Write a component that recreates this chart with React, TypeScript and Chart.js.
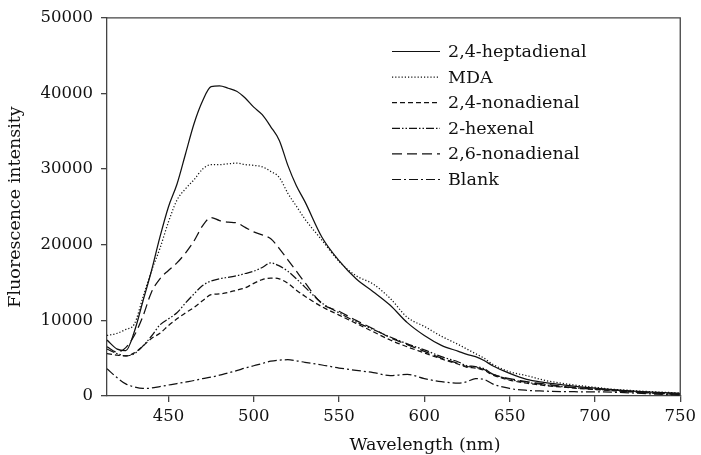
import React, { useEffect, useRef } from "react";
import { Chart, registerables } from "chart.js";

Chart.register(...registerables);

const wavelengths = [414, 420, 425, 430, 435, 440, 445, 450, 455, 460, 465, 470, 475, 480, 485, 490, 495, 500, 505, 510, 515, 520, 525, 530, 540, 550, 560, 570, 580, 590, 600, 610, 620, 625, 630, 635, 640, 650, 660, 670, 680, 690, 700, 710, 720, 730, 740, 750];

const heptadienal = [7400, 6200, 6000, 8500, 12500, 16500, 21000, 25000, 28000, 32000, 36000, 39000, 40900, 41000, 40700, 40300, 39400, 38200, 37200, 35600, 33800, 30500, 27800, 25700, 21000, 17900, 15500, 13800, 12000, 9700, 8000, 6700, 5900, 5500, 5200, 4700, 4000, 3000, 2200, 1800, 1500, 1250, 1050, 850, 680, 550, 450, 350];

const mda = [8000, 8300, 8800, 9500, 13000, 16500, 19500, 23000, 25900, 27400, 28600, 30000, 30600, 30600, 30700, 30800, 30600, 30500, 30300, 29700, 28900, 26800, 25100, 23400, 20600, 17800, 15900, 14800, 12900, 10400, 9200, 7900, 6800, 6200, 5600, 5000, 4200, 3200, 2700, 2100, 1700, 1400, 1150, 900, 750, 600, 500, 400];

const nonadienal24 = [5600, 5400, 5300, 5700, 6600, 7600, 8300, 9300, 10200, 11000, 11700, 12600, 13400, 13500, 13700, 14000, 14300, 14900, 15400, 15600, 15500, 14900, 14000, 13200, 11800, 10700, 9600, 8500, 7400, 6500, 5700, 4900, 4200, 3800, 3700, 3400, 2800, 2100, 1700, 1400, 1200, 1000, 850, 700, 560, 420, 320, 220];

const hexenal = [6200, 5600, 5300, 5600, 6600, 7900, 9400, 10200, 11000, 12300, 13500, 14600, 15200, 15500, 15700, 15900, 16200, 16500, 17000, 17600, 17200, 16500, 15500, 14400, 12300, 11000, 9800, 8800, 7800, 6900, 6100, 5200, 4500, 4000, 3900, 3600, 2900, 2200, 1800, 1500, 1250, 1050, 900, 750, 600, 450, 330, 230];

const nonadienal26 = [6500, 5800, 6400, 8000, 10500, 13700, 15500, 16600, 17600, 18900, 20500, 22500, 23600, 23200, 23000, 22900, 22300, 21700, 21300, 20800, 19500, 18000, 16500, 15000, 12200, 11200, 10000, 8900, 7700, 6800, 5900, 5000, 4300, 3900, 3800, 3500, 2900, 2300, 1900, 1600, 1300, 1100, 950, 800, 650, 500, 350, 250];

const blank = [3600, 2400, 1600, 1200, 1000, 1050, 1250, 1450, 1650, 1850, 2050, 2300, 2500, 2750, 3050, 3350, 3700, 4000, 4300, 4600, 4750, 4800, 4650, 4450, 4100, 3700, 3400, 3100, 2700, 2850, 2300, 1900, 1700, 1900, 2300, 2200, 1600, 1000, 750, 650, 580, 560, 550, 500, 420, 320, 200, 100];

const seriesLabels = ["2,4-heptadienal", "MDA", "2,4-nonadienal", "2-hexenal", "2,6-nonadienal", "Blank"];

const xTicks = [450, 500, 550, 600, 650, 700, 750];
const yTicks = [0, 10000, 20000, 30000, 40000, 50000];
const xTitle = "Wavelength (nm)";
const yTitle = "Fluorescence intensity";

const FONT = '"DejaVu Serif", serif';
const AXIS = "#444";
const INK = "#111";

export default function App() {
  const ref = useRef<HTMLCanvasElement | null>(null);

  useEffect(() => {
    if (!ref.current) return;
    const values = [heptadienal, mda, nonadienal24, hexenal, nonadienal26, blank];
    const dashes: number[][] = [[], [1.2, 2], [5, 3], [8, 2, 1.5, 2, 1.5, 2], [10, 5], [9, 3, 2, 3]];

    const legendPlugin = {
      id: "inlineLegend",
      afterDraw(chart: any) {
        const ctx = chart.ctx;
        ctx.save();
        ctx.font = `17.5px ${FONT}`;
        ctx.textBaseline = "middle";
        ctx.fillStyle = INK;
        seriesLabels.forEach((label, i) => {
          const y = 51.5 + i * 25.6;
          ctx.beginPath();
          ctx.setLineDash(dashes[i]);
          ctx.strokeStyle = INK;
          ctx.lineWidth = 1.2;
          ctx.moveTo(392, y);
          ctx.lineTo(440, y);
          ctx.stroke();
          ctx.setLineDash([]);
          ctx.fillText(label, 448, y + 1);
        });
        // x-axis title (placed as in the reference, right of centre)
        ctx.textAlign = "center";
        ctx.fillText(xTitle, 425, 445);
        ctx.restore();
      },
    };

    const framePlugin = {
      id: "frame",
      afterDraw(chart: any) {
        const { left, right, top, bottom } = chart.chartArea;
        const ctx = chart.ctx;
        ctx.save();
        ctx.strokeStyle = AXIS;
        ctx.lineWidth = 1.3;
        ctx.beginPath();
        ctx.moveTo(left, top);
        ctx.lineTo(right, top);
        ctx.lineTo(right, bottom);
        ctx.stroke();
        ctx.restore();
      },
    };

    const chart = new Chart(ref.current, {
      type: "line",
      data: {
        datasets: values.map((vals, i) => ({
          label: seriesLabels[i],
          data: wavelengths.map((w, j) => ({ x: w, y: vals[j] })),
          borderColor: INK,
          borderWidth: 1.25,
          borderDash: dashes[i],
          pointRadius: 0,
          fill: false,
          cubicInterpolationMode: "monotone" as const,
        })),
      },
      options: {
        animation: false,
        responsive: false,
        layout: { padding: { left: 0, right: 16, top: 17, bottom: 0 } },
        plugins: { legend: { display: false }, tooltip: { enabled: false } },
        scales: {
          x: {
            type: "linear",
            min: 414,
            max: 750,
            afterBuildTicks: (scale: any) => {
              scale.ticks = xTicks.map((v) => ({ value: v }));
            },
            afterFit: (scale: any) => {
              scale.height = 59;
            },
            grid: { drawOnChartArea: false, drawTicks: true, tickLength: 6, color: AXIS, lineWidth: 1.3 },
            border: { display: true, color: AXIS, width: 1.3 },
            ticks: { color: INK, font: { family: FONT, size: 16.5 }, padding: 5, maxRotation: 0 },
            title: { display: false },
          },
          y: {
            type: "linear",
            min: 0,
            max: 50000,
            afterBuildTicks: (scale: any) => {
              scale.ticks = yTicks.map((v) => ({ value: v }));
            },
            afterFit: (scale: any) => {
              scale.width = 107;
            },
            grid: { drawOnChartArea: false, drawTicks: true, tickLength: 6, color: AXIS, lineWidth: 1.3 },
            border: { display: true, color: AXIS, width: 1.3 },
            ticks: { color: INK, font: { family: FONT, size: 16.5 }, padding: 8, callback: (v: any) => String(v) },
            title: { display: true, text: yTitle, color: INK, font: { family: FONT, size: 17.5 }, padding: { top: 4.5, bottom: 0 } },
          },
        },
      },
      plugins: [legendPlugin, framePlugin],
    });
    return () => chart.destroy();
  }, []);

  return (
    <div style={{ position: "absolute", left: 0, top: 0, width: 701, height: 455, background: "#fff" }}>
      <canvas ref={ref} width={701} height={455} />
    </div>
  );
}
